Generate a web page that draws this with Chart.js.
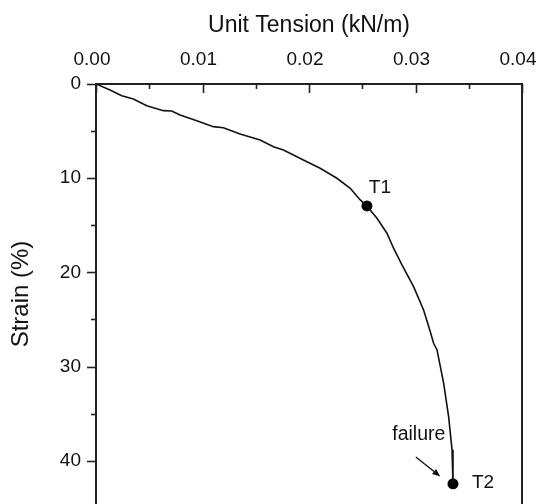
<!DOCTYPE html>
<html>
<head>
<meta charset="utf-8">
<script src="https://cdn.jsdelivr.net/npm/chart.js@4.4.1/dist/chart.umd.min.js"></script>
<style>
  html, body { margin: 0; padding: 0; background: #fff; overflow: hidden; }
  #wrap { width: 540px; height: 504px; }
</style>
</head>
<body>
<div id="wrap"><canvas id="c" width="540" height="504"></canvas></div>
<script>
// Tension–strain record of the specimen (strain grows downward)
const tension = [0, 0.00132, 0.00242, 0.00351, 0.00477, 0.00633, 0.00711, 0.00789, 0.00946,
  0.01102, 0.01196, 0.01353, 0.01541, 0.01666, 0.01760, 0.01980, 0.02105, 0.02262, 0.02387,
  0.02481, 0.02544, 0.02638, 0.02732, 0.02794, 0.02873, 0.02982, 0.03076, 0.03139, 0.03170,
  0.03202, 0.03264, 0.03311, 0.03343, 0.03352];
const strain = [0, 0.64, 1.24, 1.59, 2.30, 2.83, 2.87, 3.29, 3.90,
  4.53, 4.64, 5.31, 5.94, 6.66, 7.01, 8.25, 8.95, 10.01, 11.07,
  12.31, 12.95, 14.26, 15.85, 17.44, 19.21, 21.52, 23.99, 26.3, 27.53,
  28.24, 31.77, 35.32, 38.85, 42.46];

// Marked states
const markerNames = ['T1', 'T2'];
const markerTension = [0.02544, 0.03352];
const markerStrain = [12.95, 42.46];

// Axis ticks
const xTickValues = [0, 0.01, 0.02, 0.03, 0.04];
const yTickValues = [0, 10, 20, 30, 40];
const strainShown = 44.6;

// "failure" arrow, in data units
const failureArrowFrom = [0.03003, 39.6];
const failureArrowTo = [0.03233, 41.67];

const FONT = '"Liberation Sans", Arial, Helvetica, sans-serif';
const INK = '#111';
const AXIS = '#222';

const curve = tension.map((t, i) => ({ x: t, y: strain[i] }));
const markers = markerTension.map((t, i) => ({ x: t, y: markerStrain[i] }));

const frame = {
  id: 'frame',
  afterDraw(chart) {
    const { ctx, chartArea: a, scales: { x, y } } = chart;
    ctx.save();
    // right edge of the frame
    ctx.strokeStyle = AXIS;
    ctx.lineWidth = 2;
    ctx.beginPath();
    ctx.moveTo(a.right, a.top - 1);
    ctx.lineTo(a.right, a.bottom);
    ctx.stroke();

    // tick marks: top axis points inward, left axis outward
    ctx.lineWidth = 1.6;
    const xt = [];
    xTickValues.forEach((v, i) => {
      xt.push([v, 9]);
      if (i < xTickValues.length - 1) xt.push([(v + xTickValues[i + 1]) / 2, 5]);
    });
    xt.forEach(([v, len]) => {
      const px = Math.round(x.getPixelForValue(v)) + 0.5;
      ctx.beginPath();
      ctx.moveTo(px, a.top);
      ctx.lineTo(px, a.top + len);
      ctx.stroke();
    });
    const yt = [];
    yTickValues.forEach((v) => {
      yt.push([v, 9]);
      yt.push([v + (yTickValues[1] - yTickValues[0]) / 2, 5]);
    });
    yt.forEach(([v, len]) => {
      if (v > strainShown) return;
      const py = Math.round(y.getPixelForValue(v)) + 0.5;
      ctx.beginPath();
      ctx.moveTo(a.left, py);
      ctx.lineTo(a.left - len, py);
      ctx.stroke();
    });

    // marker labels
    ctx.fillStyle = INK;
    ctx.font = '19px ' + FONT;
    ctx.textBaseline = 'middle';
    const p1x = x.getPixelForValue(markerTension[0]);
    const p1y = y.getPixelForValue(markerStrain[0]);
    ctx.textAlign = 'center';
    ctx.fillText(markerNames[0], p1x + 13, p1y - 18);
    const p2x = x.getPixelForValue(markerTension[1]);
    const p2y = y.getPixelForValue(markerStrain[1]);
    ctx.textAlign = 'left';
    ctx.fillText(markerNames[1], p2x + 19, p2y - 1);

    // failure note with arrow
    const ax0 = x.getPixelForValue(failureArrowFrom[0]);
    const ay0 = y.getPixelForValue(failureArrowFrom[1]);
    const ax1 = x.getPixelForValue(failureArrowTo[0]);
    const ay1 = y.getPixelForValue(failureArrowTo[1]);
    ctx.textAlign = 'center';
    ctx.textBaseline = 'alphabetic';
    ctx.font = '19.5px ' + FONT;
    ctx.fillText('failure', ax0 + 3, ay0 - 17);

    const ang = Math.atan2(ay1 - ay0, ax1 - ax0);
    const head = 8, half = 3.2;
    const bx = ax1 - head * Math.cos(ang), by = ay1 - head * Math.sin(ang);
    ctx.strokeStyle = INK;
    ctx.lineWidth = 1.3;
    ctx.beginPath();
    ctx.moveTo(ax0, ay0);
    ctx.lineTo(bx, by);
    ctx.stroke();
    ctx.beginPath();
    ctx.moveTo(ax1, ay1);
    ctx.lineTo(bx + half * Math.sin(ang), by - half * Math.cos(ang));
    ctx.lineTo(bx - half * Math.sin(ang), by + half * Math.cos(ang));
    ctx.closePath();
    ctx.fill();
    ctx.restore();
  }
};

new Chart(document.getElementById('c'), {
  type: 'line',
  data: {
    datasets: [
      {
        data: curve,
        borderColor: INK,
        borderWidth: 1.6,
        pointRadius: 0,
        tension: 0,
        fill: false
      },
      {
        type: 'scatter',
        data: markers,
        pointRadius: 5.5,
        pointBackgroundColor: '#000',
        pointBorderColor: '#000',
        pointBorderWidth: 0,
        showLine: false
      }
    ]
  },
  options: {
    responsive: false,
    animation: false,
    layout: { padding: 0, autoPadding: false },
    plugins: { legend: { display: false }, tooltip: { enabled: false } },
    scales: {
      x: {
        type: 'linear',
        position: 'top',
        min: 0,
        max: 0.04,
        afterBuildTicks: s => { s.ticks = xTickValues.map(v => ({ value: v })); },
        afterFit: s => {
          s.height = 84;
          s.paddingLeft = 0;
          s.paddingRight = 18;
        },
        ticks: {
          padding: 13,
          labelOffset: -4,
          maxRotation: 0,
          autoSkip: false,
          color: INK,
          font: { family: FONT, size: 19 },
          callback: v => Number(v).toFixed(2)
        },
        grid: { display: false, drawTicks: false },
        border: { display: true, color: AXIS, width: 2 },
        title: {
          display: true,
          text: 'Unit Tension (kN/m)',
          color: INK,
          font: { family: FONT, size: 23 },
          padding: { top: 12, bottom: 0 }
        }
      },
      y: {
        type: 'linear',
        reverse: true,
        min: 0,
        max: strainShown,
        afterBuildTicks: s => { s.ticks = yTickValues.map(v => ({ value: v })); },
        afterFit: s => {
          s.width = 96;
          s.paddingTop = 0;
          s.paddingBottom = 0;
        },
        ticks: {
          padding: 15,
          autoSkip: false,
          color: INK,
          font: { family: FONT, size: 19 },
          callback: v => String(v)
        },
        grid: { display: false, drawTicks: false },
        border: { display: true, color: AXIS, width: 2 },
        title: {
          display: true,
          text: 'Strain (%)',
          color: INK,
          font: { family: FONT, size: 24 },
          padding: { top: 7, bottom: 0 }
        }
      }
    }
  },
  plugins: [frame]
});
</script>
</body>
</html>
